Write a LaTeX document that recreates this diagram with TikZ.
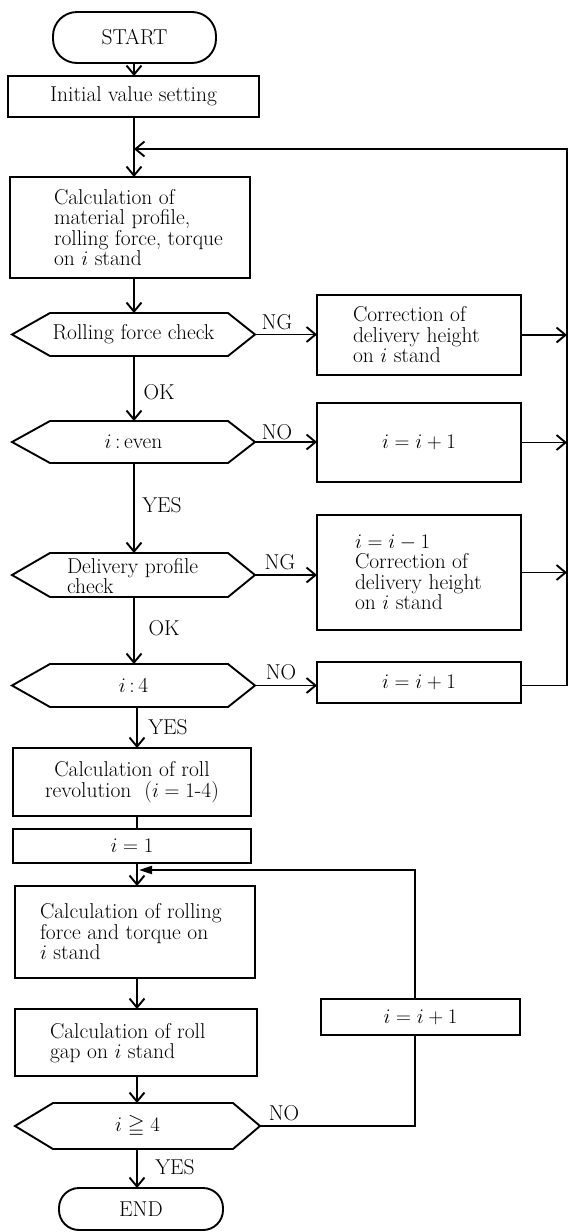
\documentclass[tikz,border=0pt]{standalone}
\usepackage{amssymb}
\usetikzlibrary{arrows.meta}
\begin{document}
\begin{tikzpicture}[x=1pt,y=-1pt,
  every node/.style={font=\fontsize{21.5}{20.5}\selectfont, inner sep=0pt, outer sep=0pt},
  flow/.style={line width=1.9pt},
  arr/.style={flow,-{Straight Barb[length=9pt,width=15pt,line width=1.9pt]}},
  filltip/.style={flow,-{Triangle[length=13pt,width=8pt]}},
  box/.style={draw, line width=1.9pt, rectangle},
  hexn/.style={rectangle},
  term/.style={draw, line width=1.9pt, rectangle},
  txt/.style={align=left, anchor=west},
]
\useasboundingbox (0,0) rectangle (568,1232);
\coordinate (colA) at (134,0);
\coordinate (colB) at (137,0);
\coordinate (fb) at (567,0);
\coordinate (lx) at (415,0);
\coordinate (merge) at (134,149);
\coordinate (loopj) at (139,870);

% main column
\node[term, minimum width=163pt, minimum height=51pt, rounded corners=24pt] (start) at (134.5,37.5) {START};
\node[box, minimum width=251pt, minimum height=41pt] (init) at (133.5,96.5) {Initial value setting};
\node[box, minimum width=240pt, minimum height=101pt] (calc1) at (130,227.5) {};
\node[txt] (calc1t) at (54,227.5) {Calculation of\\material profile,\\rolling force, torque\\on $i$ stand};
\node[hexn, minimum width=243pt, minimum height=43pt] (rfc) at (133.5,334.5) {Rolling force check};
\node[hexn, minimum width=243pt, minimum height=42pt] (even) at (133.5,442) {$i$\,:\,even};
\node[hexn, minimum width=243pt, minimum height=44pt] (dpc) at (133.5,575) {};
\node[txt, font=\fontsize{21.5}{18}\selectfont] (dpct) at (67,576) {Delivery profile\\check};
\node[hexn, minimum width=243pt, minimum height=43pt] (four) at (133.5,685.5) {$i$\,:\,4};
\node[box, minimum width=238pt, minimum height=68pt, align=center] (calcrev) at (132,782) {Calculation of roll\\revolution\ \ ($i=1$-4)};
\node[box, minimum width=238pt, minimum height=34pt] (i1) at (132,846) {$i=1$};
\node[box, minimum width=240pt, minimum height=92pt] (calcrf) at (135,932) {};
\node[txt] (calcrft) at (40,932) {Calculation of rolling\\force and torque on\\$i$ stand};
\node[box, minimum width=242pt, minimum height=67pt] (calcgap) at (136,1042.5) {};
\node[txt] (calcgapt) at (50,1043) {Calculation of roll\\gap on $i$ stand};
\node[hexn, minimum width=245pt, minimum height=46pt] (ge) at (137.5,1126) {$i\geqq 4$};
\node[term, minimum width=164pt, minimum height=42pt, rounded corners=20pt] (endn) at (141,1209) {END};

% right column
\node[box, minimum width=204pt, minimum height=80pt] (corr1) at (419,335) {};
\node[txt] (corr1t) at (353,335) {Correction of\\delivery height\\on $i$ stand};
\node[box, minimum width=204pt, minimum height=79pt] (inc1) at (419,442.5) {$i=i+1$};
\node[box, minimum width=204pt, minimum height=115pt] (corr2) at (419,572.5) {};
\node[txt] (corr2t) at (355,572.5) {$i=i-1$\\Correction of\\delivery height\\on $i$ stand};
\node[box, minimum width=204pt, minimum height=41pt] (inc2) at (419,682.5) {$i=i+1$};
\node[box, minimum width=199pt, minimum height=36pt] (inc3) at (420.5,1017) {$i=i+1$};

% hexagon outlines
\foreach \h in {rfc,even,dpc,four,ge}{
  \draw[flow, line join=miter] (\h.west) -- ([xshift=38pt]\h.north west) -- ([xshift=-27pt]\h.north east) -- (\h.east) -- ([xshift=-27pt]\h.south east) -- ([xshift=38pt]\h.south west) -- cycle;
}

% labels
\node (ng1) at (277,322) {NG};
\node (ok1) at (159,392) {OK};
\node (no1) at (277,432) {NO};
\node (yes1) at (162,505) {YES};
\node (ng2) at (280,562) {NG};
\node (ok2) at (164,628) {OK};
\node (no2) at (281,672) {NO};
\node (yes2) at (168,727) {YES};
\node (no3) at (284,1113) {NO};
\node (yes3) at (175,1167) {YES};

% main flow
\draw[arr] (start.south -| colA) -- (init.north -| colA);
\draw[flow] (init.south -| colA) -- (merge);
\draw[arr] (merge) -- (calc1.north -| colA);
\draw[arr] (calc1.south -| colA) -- (rfc.north -| colA);
\draw[arr] (rfc.south -| colA) -- (even.north -| colA);
\draw[arr] (even.south -| colA) -- (dpc.north -| colA);
\draw[arr] (dpc.south -| colA) -- (four.north -| colA);
\draw[arr] (four.south -| colB) -- (calcrev.north -| colB);
\draw[flow] (calcrev.south -| colB) -- (i1.north -| colB);
\draw[arr] (i1.south -| colB) -- (calcrf.north -| colB);
\draw[arr] (calcrf.south -| colB) -- (calcgap.north -| colB);
\draw[arr] (calcgap.south -| colB) -- (ge.north -| colB);
\draw[arr] (ge.south -| colB) -- (endn.north -| colB);

% branches to the right
\draw[arr] (rfc.east) -- (corr1.west |- rfc.east);
\draw[arr] (even.east) -- (inc1.west |- even.east);
\draw[arr] (dpc.east) -- (corr2.west |- dpc.east);
\draw[arr] (four.east) -- (inc2.west |- four.east);
\draw[arr] (corr1.east) -- (fb |- corr1.east);
\draw[arr] (inc1.east) -- (fb |- inc1.east);
\draw[arr] (corr2.east) -- (fb |- corr2.east);
\draw[arr] (inc2.east |- four.east) -- (fb |- four.east) -- (fb |- merge) -- (merge);

% lower loop
\draw[flow] (ge.east) -- (lx |- ge.east) -- (inc3.south -| lx);
\draw[filltip] (inc3.north -| lx) -- (lx |- loopj) -- (loopj);
\end{tikzpicture}
\end{document}
